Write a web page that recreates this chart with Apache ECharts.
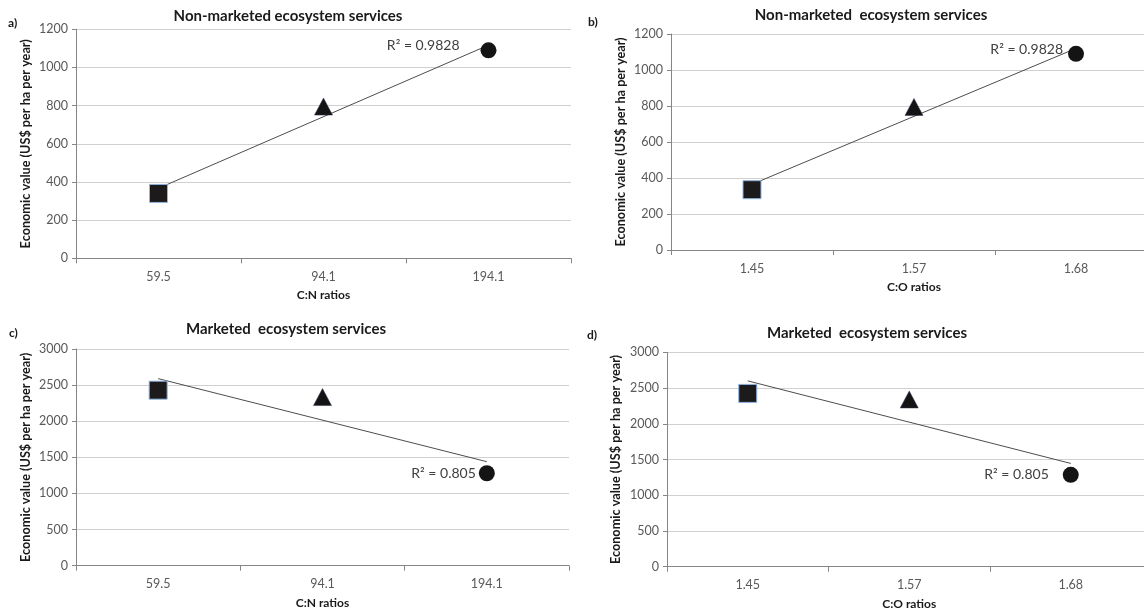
<!DOCTYPE html>
<html>
<head>
<meta charset="utf-8">
<script src="https://cdn.jsdelivr.net/npm/echarts@6/dist/echarts.min.js"></script>
<style>
html,body{margin:0;padding:0;background:#fff;overflow:hidden;}
#chart{width:1144px;height:611px;}
</style>
</head>
<body>
<div id="chart"></div>
<script>
// ---- data ----
const catCN = ['59.5', '94.1', '194.1'];
const catCO = ['1.45', '1.57', '1.68'];
const nonMarketedCN = [340, 795, 1090];
const nonMarketedCO = [335, 795, 1090];
const marketedCN = [2430, 2335, 1280];
const marketedCO = [2425, 2340, 1285];
// linear trendline values at first and last category
const trendNonMarketedCN = [367, 1117];
const trendNonMarketedCO = [365, 1120];
const trendMarketedCN = [2590, 1440];
const trendMarketedCO = [2600, 1445];
const r2Labels = ['R² = 0.9828', 'R² = 0.9828', 'R² = 0.805', 'R² = 0.805'];
const titles = ['Non-marketed ecosystem services', 'Non-marketed  ecosystem services', 'Marketed  ecosystem services', 'Marketed  ecosystem services'];
const panelTags = ['a)', 'b)', 'c)', 'd)'];
const xNames = ['C:N ratios', 'C:O ratios', 'C:N ratios', 'C:O ratios'];
const yName = 'Economic value (US$ per ha per year)';
const yMax = [1200, 1200, 3000, 3000];
const yStep = [200, 200, 500, 500];

// ---- layout / style ----
const FONT = 'Lato, "Open Sans", sans-serif';
const grids = [
  {left: 76, top: 29.3, width: 495, height: 229, outerBoundsMode: 'none', containLabel: false},
  {left: 671, top: 34, width: 486, height: 216, outerBoundsMode: 'none', containLabel: false},
  {left: 76, top: 349, width: 493, height: 216.7, outerBoundsMode: 'none', containLabel: false},
  {left: 667, top: 352.3, width: 484.5, height: 214.4, outerBoundsMode: 'none', containLabel: false}
];
const panels = [
  {cats: catCN, vals: nonMarketedCN, trend: trendNonMarketedCN, lblDist: 21, lblOff: [0, -5]},
  {cats: catCO, vals: nonMarketedCO, trend: trendNonMarketedCO, lblDist: 5, lblOff: [0, -4]},
  {cats: catCN, vals: marketedCN, trend: trendMarketedCN, lblDist: 3, lblOff: [0, 0]},
  {cats: catCO, vals: marketedCO, trend: trendMarketedCO, lblDist: 14, lblOff: [0, 0]}
];
const markerStyles = [
  {symbol: 'rect', symbolSize: 18, itemStyle: {color: '#1c1a1b', borderColor: '#8eb4e3', borderWidth: 1, opacity: 1}},
  {symbol: 'triangle', symbolSize: [18, 17], itemStyle: {color: '#141414', borderColor: '#2a3550', borderWidth: 0.5, opacity: 1}},
  {symbol: 'circle', symbolSize: 16, itemStyle: {color: '#141414', opacity: 1}}
];
const yNameGaps = [44, 44, 44, 45];
const titlePos = [[288, 16], [871, 15], [286, 329], [867, 333]];
const tagPos = [[8, 23], [588, 22], [9, 333], [587, 335]];

const xAxes = [], yAxes = [], series = [], graphics = [];
panels.forEach((p, i) => {
  xAxes.push({
    type: 'category', gridIndex: i, data: p.cats, boundaryGap: true,
    name: xNames[i], nameLocation: 'middle', nameGap: 31,
    nameTextStyle: {fontFamily: FONT, fontWeight: 'bold', fontSize: 12, color: '#1a1a1a'},
    axisLine: {show: true, lineStyle: {color: '#868686', width: 1}},
    axisTick: {show: true, length: 5, alignWithLabel: false, lineStyle: {color: '#868686'}},
    axisLabel: {fontFamily: FONT, fontSize: 12.5, color: '#595959', margin: 12},
    splitLine: {show: false}
  });
  yAxes.push({
    type: 'value', gridIndex: i, min: 0, max: yMax[i], interval: yStep[i],
    name: yName, nameLocation: 'middle', nameGap: yNameGaps[i], nameRotate: 90,
    nameTextStyle: {fontFamily: FONT, fontWeight: 'bold', fontSize: 12.7, color: '#1a1a1a'},
    axisLine: {show: true, lineStyle: {color: '#868686', width: 1}},
    axisTick: {show: true, length: 4, lineStyle: {color: '#868686'}},
    axisLabel: {fontFamily: FONT, fontSize: 12.5, color: '#595959', margin: 8, formatter: v => String(v)},
    splitLine: {show: true, lineStyle: {color: '#d0d0d0', width: 1}}
  });
  series.push({
    type: 'line', xAxisIndex: i, yAxisIndex: i, z: 1,
    data: [[p.cats[0], p.trend[0]], [p.cats[p.cats.length - 1], p.trend[1]]],
    symbol: 'none', silent: true,
    lineStyle: {color: '#4d4d4d', width: 1}
  });
  series.push({
    type: 'scatter', xAxisIndex: i, yAxisIndex: i, z: 3,
    itemStyle: {opacity: 1},
    data: p.vals.map((v, k) => {
      const item = Object.assign({value: [p.cats[k], v]}, markerStyles[k]);
      if (k === p.vals.length - 1) {
        item.label = {
          show: true, position: 'left', distance: p.lblDist, offset: p.lblOff,
          formatter: r2Labels[i], fontFamily: FONT, fontSize: 14, color: '#404040'
        };
      }
      return item;
    })
  });
  graphics.push({
    type: 'text', x: titlePos[i][0], y: titlePos[i][1],
    style: {text: titles[i], fontFamily: FONT, fontWeight: 'bold', fontSize: 15, fill: '#1a1a1a', textAlign: 'center', textVerticalAlign: 'middle'}
  });
  graphics.push({
    type: 'text', x: tagPos[i][0], y: tagPos[i][1],
    style: {text: panelTags[i], fontFamily: FONT, fontWeight: 'bold', fontSize: 12, fill: '#1a1a1a', textAlign: 'left', textVerticalAlign: 'middle'}
  });
});

const chart = echarts.init(document.getElementById('chart'), null, {renderer: 'canvas'});
chart.setOption({
  animation: false,
  backgroundColor: '#ffffff',
  grid: grids,
  xAxis: xAxes,
  yAxis: yAxes,
  series: series,
  graphic: graphics
});
</script>
</body>
</html>
